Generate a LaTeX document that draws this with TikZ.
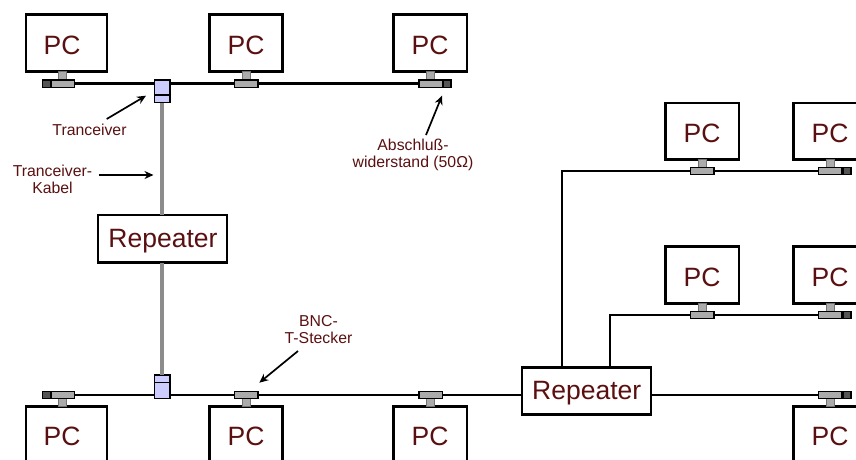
\documentclass[tikz,border=0pt]{standalone}
\usepackage{fontspec}
\setmainfont{Liberation Sans}
\usetikzlibrary{arrows.meta}
\definecolor{txt}{HTML}{5A1010}
\definecolor{conn}{HTML}{ABABAB}
\definecolor{term}{HTML}{555555}
\definecolor{trans}{HTML}{CCCCFF}
\definecolor{cable}{HTML}{8C8C8C}
\tikzset{
  rbox/.style={draw=black,line width=2.5pt,fill=white,inner sep=0pt,outer sep=0pt},
  part/.style={draw=black,line width=1.4pt,inner sep=0pt,outer sep=0pt},
  neckpart/.style={draw=black!55,line width=.8pt,fill=conn,inner sep=0pt,outer sep=0pt},
  bigtext/.style={text=txt,font=\fontsize{26.5}{26.5}\selectfont,inner sep=0pt},
  smalltext/.style={text=txt,font=\fontsize{15.8}{17}\selectfont,inner sep=0pt,align=center},
  bus/.style={draw=black,line width=2.8pt},
  graycable/.style={draw=cable,line width=4pt},
  pointer/.style={draw=black,line width=1.7pt,-{Stealth[length=9pt,width=8pt]}},
}
% name, x0, y0, x1, y1, style
\newcommand{\boxnode}[6]{\node[#6,minimum width={((#4)-(#2))*1pt},minimum height={((#5)-(#3))*1pt}] (#1) at ({((#2)+(#4))/2},{((#3)+(#5))/2}) {};}
% name, box x0,y0,x1,y1, text x, text y(centre of capitals)
\newcommand{\pcnode}[7]{\boxnode{#1}{#2}{#3}{#4}{#5}{rbox}\node[bigtext,anchor=base] (#1t) at (#6,#7+9.5) {PC};}
% name, outer left x of the plug, outer top y, neck y0, neck y1
\newcommand{\plug}[5]{\boxnode{#1n}{#2+8.3}{#4}{#2+16.3}{#5}{neckpart}\boxnode{#1}{#2+.7}{#3+.7}{#2+24}{#3+8}{part,fill=conn}}
\newcommand{\termin}[3]{\boxnode{#1}{#2+.7}{#3+.7}{#2+8.5}{#3+8}{part,fill=term}}
\begin{document}
\begin{tikzpicture}[x=1pt,y=-1pt]
\clip (0,0) rectangle (856,459);
% PCs, top left network
\pcnode{pa}{26}{14.5}{107}{71.5}{62}{44.5}
\pcnode{pb}{209.5}{14.5}{282.5}{71.5}{246}{44.5}
\pcnode{pc}{393.5}{14.5}{467}{71.5}{430}{44.5}
\termin{ta}{42}{79.4}
\plug{ca}{50.5}{79.4}{71.5}{80}
\plug{cb}{234}{79.4}{71.5}{80}
\termin{tc}{442.5}{79.4}
\plug{cc}{418.2}{79.4}{71.5}{80}
% PCs, bottom left network
\pcnode{pd}{26}{406.5}{107}{470}{62}{436}
\pcnode{pe}{209.5}{406.5}{282.5}{470}{246}{436}
\pcnode{pf}{393.5}{406.5}{467}{470}{430}{436}
\termin{td}{42}{390.7}
\plug{cd}{50.5}{390.7}{398.5}{406.5}
\plug{ce}{234}{390.7}{398.5}{406.5}
\plug{cf}{418.2}{390.7}{398.5}{406.5}
% PCs, right
\pcnode{pg}{665.5}{103}{739}{159.5}{702}{132.5}
\pcnode{ph}{793.5}{103}{867}{159.5}{830}{132.5}
\pcnode{pi}{665.5}{246.5}{739}{303.5}{702}{276.5}
\pcnode{pj}{793.5}{246.5}{867}{303.5}{830}{276.5}
\pcnode{pk}{793.5}{406.5}{867}{470}{830}{436}
\plug{cg}{690}{166.7}{159.5}{167.3}
\termin{th}{842.5}{166.7}
\plug{ch}{818}{166.7}{159.5}{167.3}
\plug{ci}{690}{310.7}{303.5}{311.3}
\termin{tj}{842.5}{310.7}
\plug{cj}{818}{310.7}{303.5}{311.3}
\termin{tk}{842.5}{390.7}
\plug{ck}{818}{390.7}{398.5}{406.5}
% Transceivers
\boxnode{xa}{154.5}{79.8}{170}{95}{part,fill=trans}
\boxnode{xb}{154.5}{95}{170}{102.5}{part,fill=trans}
\boxnode{xc}{154.5}{374.8}{170}{382.7}{part,fill=trans}
\boxnode{xd}{154.5}{382.7}{170}{398.5}{part,fill=trans}
% Repeaters
\boxnode{ra}{98}{215}{227}{262.5}{rbox}
\node[bigtext,anchor=base] (rat) at (163,247) {Repeater};
\boxnode{rb}{522}{367.5}{651}{414.5}{rbox}
\node[bigtext,anchor=base] (rbt) at (586.7,399.5) {Repeater};
% Labels
\node[smalltext,anchor=center] (l1) at (89.5,129.5) {Tranceiver};
\node[smalltext,anchor=center] (l2) at (52.5,179) {Tranceiver-\\Kabel};
\node[smalltext,anchor=center] (l3) at (413,155) {Abschluß-\\widerstand (50Ω)};
\node[smalltext,anchor=center] (l4) at (318.5,330) {BNC-\\T-Stecker};
% Buses
\path[bus] (ca.east) -- (ca.east -| xa.west);
\path[bus] (xa.east |- cb.west) -- (cb.west);
\path[bus] (cb) -- (cc);
\path[bus] (cd.east) -- (cd.east -| xd.west);
\path[bus] (xd.east |- ce.west) -- (ce.west);
\path[bus] (ce) -- (cf);
\coordinate (ka) at (562,367.5);
\coordinate (kb) at (610,367.5);
\path[bus] (cf.east) -- (cf.east -| rb.west);
\path[bus] (rb.east |- ck.west) -- (ck.west);
\path[bus] (ka) |- (cg.west);
\path[bus] (kb) |- (ci.west);
\path[bus] (cg) -- (ch);
\path[bus] (ci) -- (cj);
% Transceiver cables
\path[graycable] (xb) -- (ra.north -| xb);
\path[graycable] (ra.south -| xc) -- (xc);
% Pointers
\coordinate (s1) at (106.7,119);
\coordinate (e1) at (146,95.7);
\coordinate (s2) at (98.7,175);
\coordinate (e2) at (153.5,175);
\coordinate (s3) at (426,135);
\coordinate (e3) at (442,95.7);
\coordinate (s4) at (298,351);
\coordinate (e4) at (259.3,382.7);
\path[pointer] (s1) -- (e1);
\path[pointer] (s2) -- (e2);
\path[pointer] (s3) -- (e3);
\path[pointer] (s4) -- (e4);
\end{tikzpicture}
\end{document}
